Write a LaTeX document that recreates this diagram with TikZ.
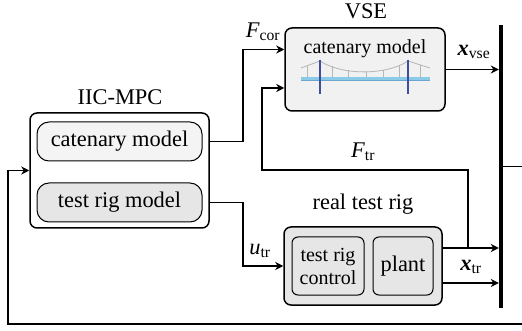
\documentclass[tikz,border=0pt]{standalone}
\usepackage{fontspec}
\setmainfont{Liberation Serif}
\usetikzlibrary{arrows.meta,calc}

\definecolor{boxgray}{HTML}{F1F1F1}
\definecolor{lightgray}{HTML}{F4F4F4}
\definecolor{midgray}{HTML}{E6E6E6}
\definecolor{deckblue}{HTML}{8CCBE8}
\definecolor{deckedge}{HTML}{6AA6CF}
\definecolor{towerblue}{HTML}{3B4F9E}
\definecolor{cablegray}{HTML}{B5B5B5}

\newcommand{\mainsize}{\fontsize{22.4}{26}\selectfont}
\newcommand{\smallsize}{\fontsize{20}{23}\selectfont}

\tikzset{
  blockbox/.style={draw, line width=1.5pt, rounded corners=7pt, inner sep=0pt},
  subbox/.style={draw, line width=1pt, rounded corners=12pt, inner sep=0pt,
                 minimum width=165pt, minimum height=39pt, font=\mainsize},
  innerbox/.style={draw, line width=1pt, rounded corners=6pt, inner sep=0pt,
                   fill=midgray, minimum height=58pt, align=center, font=\smallsize},
  title/.style={font=\mainsize, inner sep=0pt},
  sig/.style={font=\mainsize, inner sep=0pt},
  arr/.style={line width=1.5pt, -{Stealth[length=8pt,width=8pt,inset=2.5pt]}},
  wire/.style={line width=1.5pt}
}

\begin{document}
\begin{tikzpicture}[x=1pt,y=-1pt]
\useasboundingbox (0,0) rectangle (522,331);
\clip (0,0) rectangle (522,331);

% virtual state estimator
\node[blockbox, fill=boxgray, minimum width=160pt, minimum height=83pt] (vse) at (365,69.5) {};
\node[title] (vsetitle) at (366,11) {VSE};
\node[font=\smallsize, inner sep=0pt] (vsecat) at (365,49) {catenary model};

% bridge sketch inside the estimator
\fill[deckblue] (301,77) rectangle (430,80.5);
\draw[deckedge, line width=0.8pt] (301,80.5) -- (430,80.5);
\draw[cablegray, line width=0.8pt]
  (301,68) -- (320,61) .. controls (342,75.5) and (386,75.5) .. (408,61) -- (430,68);
\foreach \hx/\hy in {307/65.8, 332/66.2, 348/70.5, 366/72, 383/69.9, 399/65.0, 420/64.8}
  \draw[cablegray, line width=0.8pt] (\hx,\hy) -- (\hx,77);
\draw[towerblue, line width=2pt] (320,60) -- (320,94);
\draw[towerblue, line width=2pt] (408,60) -- (408,94);

% controller
\node[blockbox, fill=white, minimum width=179pt, minimum height=115pt] (iic) at (119.5,170.5) {};
\node[title] (iictitle) at (120,97) {IIC-MPC};
\node[subbox, fill=lightgray] (cat) at (119.5,141.5) {catenary model};
\node[subbox, fill=midgray] (trm) at (119.5,202.5) {test rig model};

% real test rig
\node[blockbox, fill=midgray, minimum width=158pt, minimum height=78pt] (rig) at (363,266) {};
\node[title] (rigtitle) at (363,204) {real test rig};
\node[innerbox, minimum width=72pt] (ctrl) at (328,266) {test rig\\control};
\node[innerbox, minimum width=60pt, font=\mainsize] (plant) at (403,266) {plant};

% signal bus
\node[fill=black, inner sep=0pt, minimum width=4pt, minimum height=283pt] (bus) at (501,166.5) {};

% connection points
\coordinate (vseinA) at ($(vse.west)+(0,-20)$);
\coordinate (vseinB) at ($(vse.west)+(0,18.5)$);
\coordinate (outA) at ($(rig.east)+(0,-18)$);
\coordinate (outB) at ($(rig.east)+(0,17)$);
\coordinate (ftrsplit) at ($(outA)+(25,0)$);
\coordinate (ftrturn) at (262,170);
\coordinate (fbturn) at (8,324);

% connectors
\draw[arr] (cat.east -| iic.east) -- ++(33,0) |- (vseinA);
\draw[arr] (trm.east -| iic.east) -- ++(33,0) |- (rig.west);
\draw[arr] (vse.east) -- (vse.east -| bus.west);
\draw[arr] (outA) -- (outA -| bus.west);
\draw[arr] (outB) -- (outB -| bus.west);
\draw[arr] (ftrsplit) |- (ftrturn) |- (vseinB);
\draw[arr] (bus.east) -- ++(30,0) |- (fbturn) |- (iic.west);

% signal labels
\node[sig] (lfcor) at (263,32) {\textit{F}$_{\mathrm{cor}}$};
\node[sig] (lxvse) at (474,52) {\textbf{\textit{x}}$_{\mathrm{vse}}$};
\node[sig] (lftr) at (363,152) {\textit{F}$_{\mathrm{tr}}$};
\node[sig] (lutr) at (260,251) {\textit{u}$_{\mathrm{tr}}$};
\node[sig] (lxtr) at (471,267) {\textbf{\textit{x}}$_{\mathrm{tr}}$};
\end{tikzpicture}
\end{document}
